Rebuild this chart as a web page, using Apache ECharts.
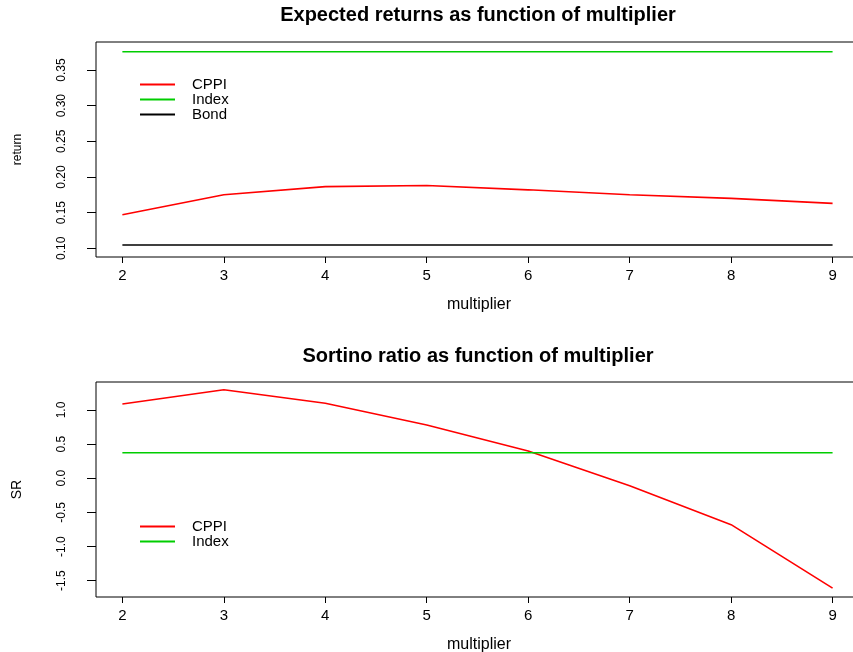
<!DOCTYPE html>
<html>
<head>
<meta charset="utf-8">
<title>CPPI multiplier</title>
<script src="https://cdn.jsdelivr.net/npm/echarts@6/dist/echarts.min.js"></script>
<style>
  html, body { margin: 0; padding: 0; background: #fff; }
  #chart { width: 853px; height: 652px; }
</style>
</head>
<body>
<div id="chart"></div>
<script>
// multiplier values on the x axis
var multiplier = [2, 3, 4, 5, 6, 7, 8, 9];

// expected returns
var cppiReturn = [0.147, 0.175, 0.1865, 0.188, 0.182, 0.175, 0.170, 0.163];
var indexReturn = [0.3757, 0.3757, 0.3757, 0.3757, 0.3757, 0.3757, 0.3757, 0.3757];
var bondReturn = [0.1047, 0.1047, 0.1047, 0.1047, 0.1047, 0.1047, 0.1047, 0.1047];

// sortino ratios
var cppiSR = [1.088, 1.297, 1.098, 0.78, 0.40, -0.11, -0.68, -1.61];
var indexSR = [0.373, 0.373, 0.373, 0.373, 0.373, 0.373, 0.373, 0.373];

// tick labels
var returnTicks = [0.10, 0.15, 0.20, 0.25, 0.30, 0.35];
var srTicks = [-1.5, -1.0, -0.5, 0.0, 0.5, 1.0];

var FONT = 'Liberation Sans, Arial, Helvetica, sans-serif';

function pairs(xs, ys) {
  return xs.map(function (x, i) { return [x, ys[i]]; });
}

function xAxisOpt(gridIndex) {
  return {
    type: 'value',
    gridIndex: gridIndex,
    min: 1.74,
    max: 9.29,
    name: 'multiplier',
    nameLocation: 'middle',
    nameGap: 40,
    nameTextStyle: { fontFamily: FONT, fontSize: 16, color: '#000' },
    axisLine: { show: false, onZero: false },
    axisTick: { show: true, inside: false, length: 6, customValues: multiplier,
      lineStyle: { color: '#000' } },
    axisLabel: { customValues: multiplier, margin: 11, fontFamily: FONT, fontSize: 15, color: '#000' },
    splitLine: { show: false }
  };
}

function yAxisOpt(gridIndex, min, max, ticks, digits, name, nameSize) {
  return {
    type: 'value',
    gridIndex: gridIndex,
    min: min,
    max: max,
    name: name,
    nameLocation: 'middle',
    nameGap: 72,
    nameTextStyle: { fontFamily: FONT, fontSize: nameSize, color: '#000' },
    axisLine: { show: false, onZero: false },
    axisTick: { show: true, inside: false, length: 9, customValues: ticks,
      lineStyle: { color: '#000' } },
    axisLabel: {
      customValues: ticks,
      rotate: 90,
      margin: 28,
      fontFamily: FONT,
      fontSize: 12,
      color: '#000',
      formatter: function (v) { return Number(v).toFixed(digits); }
    },
    splitLine: { show: false }
  };
}

function lineSeries(name, data, color, xi, yi, width) {
  return {
    name: name,
    type: 'line',
    xAxisIndex: xi,
    yAxisIndex: yi,
    data: data,
    symbol: 'none',
    silent: true,
    lineStyle: { color: color, width: width },
    itemStyle: { color: color }
  };
}

var legendText = { fontFamily: FONT, fontSize: 15, lineHeight: 14, color: '#000', padding: [0, 0, 0, 12] };

var option = {
  animation: false,
  backgroundColor: '#fff',
  title: [
    {
      text: 'Expected returns as function of multiplier',
      left: 478, top: 5, textAlign: 'center', padding: 0,
      textStyle: { fontFamily: FONT, fontSize: 20, fontWeight: 'bold', color: '#000' }
    },
    {
      text: 'Sortino ratio as function of multiplier',
      left: 478, top: 346, textAlign: 'center', padding: 0,
      textStyle: { fontFamily: FONT, fontSize: 20, fontWeight: 'bold', color: '#000' }
    }
  ],
  legend: [
    {
      data: ['CPPI', 'Index', 'Bond'],
      orient: 'vertical',
      left: 140, top: 77, padding: 0,
      itemGap: 0, itemWidth: 35, itemHeight: 2, icon: 'rect',
      selectedMode: false,
      textStyle: legendText
    },
    {
      data: ['CPPI ', 'Index '],
      orient: 'vertical',
      left: 140, top: 519, padding: 0,
      itemGap: 0, itemWidth: 35, itemHeight: 2, icon: 'rect',
      selectedMode: false,
      textStyle: legendText,
      formatter: function (n) { return n.trim(); }
    }
  ],
  grid: [
    { left: 96, top: 42, width: 766, height: 215, show: true, borderColor: '#000', borderWidth: 1,
      containLabel: false, outerBoundsMode: 'none' },
    { left: 96, top: 382, width: 766, height: 215, show: true, borderColor: '#000', borderWidth: 1,
      containLabel: false, outerBoundsMode: 'none' }
  ],
  xAxis: [xAxisOpt(0), xAxisOpt(1)],
  yAxis: [
    yAxisOpt(0, 0.0878, 0.3893, returnTicks, 2, 'return', 12),
    yAxisOpt(1, -1.739, 1.41, srTicks, 1, 'SR', 14)
  ],
  series: [
    lineSeries('CPPI', pairs(multiplier, cppiReturn), '#ff0000', 0, 0, 1.6),
    lineSeries('Index', pairs(multiplier, indexReturn), '#00cd00', 0, 0, 1.6),
    lineSeries('Bond', pairs(multiplier, bondReturn), '#000000', 0, 0, 1.6),
    lineSeries('CPPI ', pairs(multiplier, cppiSR), '#ff0000', 1, 1, 1.6),
    lineSeries('Index ', pairs(multiplier, indexSR), '#00cd00', 1, 1, 1.6)
  ]
};

var chart = echarts.init(document.getElementById('chart'), null, { renderer: 'canvas' });
chart.setOption(option);
</script>
</body>
</html>
